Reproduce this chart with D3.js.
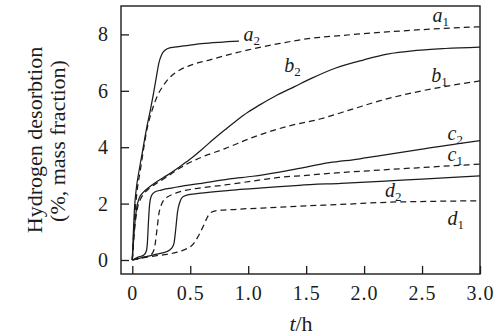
<!DOCTYPE html>
<html><head><meta charset="utf-8">
<script src="https://cdn.jsdelivr.net/npm/d3@7"></script>
<style>
html,body{margin:0;padding:0;background:#fff;}
</style></head>
<body>
<svg id="chart" width="501" height="336"></svg>
<script>
// ---- data (t in h, hydrogen desorption in % mass fraction) ----
const xTicks = [0, 0.5, 1.0, 1.5, 2.0, 2.5, 3.0];
const xTickLabels = ["0", "0.5", "1.0", "1.5", "2.0", "2.5", "3.0"];
const yTicks = [0, 2, 4, 6, 8];
const yTickLabels = ["0", "2", "4", "6", "8"];

const a2 = [[0,0],[0.02,1.9],[0.035,2.55],[0.06,3.2],[0.09,3.9],[0.12,4.6],[0.155,5.3],[0.185,5.95],[0.21,6.55],[0.23,7.0],[0.255,7.3],[0.285,7.45],[0.33,7.53],[0.4,7.57],[0.5,7.62],[0.6,7.67],[0.75,7.72],[0.92,7.76]];
const a1 = [[0,0],[0.02,1.5],[0.04,2.4],[0.07,3.2],[0.1,4.0],[0.13,4.7],[0.17,5.3],[0.22,5.85],[0.27,6.2],[0.33,6.5],[0.41,6.74],[0.5,6.9],[0.67,7.1],[0.85,7.3],[1.0,7.45],[1.25,7.66],[1.5,7.84],[1.8,7.96],[2.14,8.07],[2.5,8.17],[3.0,8.27]];
const b2 = [[0,0],[0.02,1.2],[0.04,1.9],[0.06,2.2],[0.09,2.38],[0.15,2.6],[0.22,2.8],[0.3,3.0],[0.4,3.28],[0.5,3.58],[0.6,3.92],[0.7,4.28],[0.8,4.62],[0.9,4.95],[1.0,5.25],[1.1,5.5],[1.25,5.85],[1.4,6.15],[1.55,6.45],[1.75,6.8],[2.0,7.1],[2.2,7.3],[2.45,7.43],[2.7,7.5],[3.0,7.55]];
const b1 = [[0,0],[0.02,1.1],[0.045,1.85],[0.07,2.15],[0.1,2.35],[0.15,2.55],[0.22,2.75],[0.3,2.95],[0.34,3.07],[0.47,3.4],[0.6,3.65],[0.8,3.95],[1.04,4.35],[1.33,4.73],[1.62,5.0],[1.9,5.35],[2.14,5.65],[2.5,6.0],[3.0,6.35]];
const c2 = [[0,0],[0.05,0.1],[0.1,0.18],[0.12,0.3],[0.13,0.6],[0.14,1.4],[0.15,2.0],[0.165,2.28],[0.19,2.4],[0.25,2.48],[0.35,2.56],[0.47,2.65],[0.6,2.72],[0.84,2.88],[1.04,2.97],[1.27,3.12],[1.44,3.25],[1.7,3.45],[1.95,3.58],[2.14,3.7],[2.5,3.93],[2.8,4.12],[3.0,4.23]];
const c1 = [[0,0],[0.08,0.08],[0.16,0.18],[0.19,0.4],[0.2,0.65],[0.215,1.15],[0.23,1.65],[0.25,1.95],[0.27,2.12],[0.31,2.25],[0.38,2.38],[0.47,2.48],[0.6,2.56],[0.8,2.66],[1.04,2.8],[1.27,2.93],[1.5,3.0],[1.7,3.07],[2.14,3.19],[2.5,3.28],[3.0,3.4]];
const d2 = [[0,0],[0.1,0.1],[0.2,0.2],[0.3,0.3],[0.34,0.42],[0.36,0.6],[0.375,1.1],[0.39,1.7],[0.41,2.05],[0.43,2.22],[0.47,2.3],[0.57,2.36],[0.84,2.47],[1.04,2.53],[1.27,2.6],[1.44,2.65],[1.8,2.72],[2.14,2.79],[2.5,2.87],[3.0,2.98]];
const d1 = [[0,0],[0.1,0.08],[0.2,0.15],[0.3,0.2],[0.38,0.27],[0.44,0.35],[0.53,0.59],[0.57,0.85],[0.61,1.18],[0.64,1.45],[0.67,1.66],[0.73,1.75],[0.9,1.8],[1.27,1.87],[1.45,1.91],[1.8,1.97],[2.22,2.05],[2.6,2.08],[3.0,2.1]];

const seriesNames = ["a2","a1","b2","b1","c2","c1","d2","d1"];
const seriesData  = [a2, a1, b2, b1, c2, c1, d2, d1];
const seriesDashed = [false, true, false, true, false, true, false, true];
// label: letter, subscript, anchor t, anchor value
const labelLetter = ["a","a","b","b","c","c","d","d"];
const labelSub    = ["2","1","2","1","2","1","2","1"];
const labelT      = [0.96, 2.59, 1.31, 2.58, 2.72, 2.72, 2.18, 2.72];
const labelV      = [7.75, 8.45, 6.65, 6.3, 4.25, 3.5, 2.25, 1.23];

// ---- layout ----
const svg = d3.select("#chart");
const frame = {left:121, right:480, top:6, bottom:274};
const x = d3.scaleLinear().domain([0,3]).range([132.3, 480]);
const y = d3.scaleLinear().domain([0,8]).range([260, 34.4]);
const ink = "#1c1c1c";
const serif = "Liberation Serif";

// frame
svg.append("rect")
  .attr("x", frame.left).attr("y", frame.top)
  .attr("width", frame.right-frame.left).attr("height", frame.bottom-frame.top)
  .attr("fill","none").attr("stroke", ink).attr("stroke-width", 1.4);

// axes
const xAxis = d3.axisBottom(x).tickValues(xTicks)
  .tickFormat((d,i)=>xTickLabels[i]).tickSizeInner(-8).tickSizeOuter(0).tickPadding(12);
const gx = svg.append("g").attr("transform",`translate(0,${frame.bottom})`).call(xAxis);
const yAxis = d3.axisLeft(y).tickValues(yTicks)
  .tickFormat((d,i)=>yTickLabels[i]).tickSizeInner(-8).tickSizeOuter(0).tickPadding(13);
const gy = svg.append("g").attr("transform",`translate(${frame.left},0)`).call(yAxis);
[gx, gy].forEach(g=>{
  g.attr("font-family", serif).attr("font-size", 20);
  g.select(".domain").remove();
  g.selectAll(".tick line").attr("stroke", ink).attr("stroke-width", 1.3);
  g.selectAll(".tick text").attr("fill", ink).attr("font-family", serif);
});
gx.selectAll(".tick text").attr("letter-spacing", 1);

// curves
const line = d3.line().x(d=>x(d[0])).y(d=>y(d[1])).curve(d3.curveMonotoneX);
const plot = svg.append("g");
seriesData.forEach((data,i)=>{
  plot.append("path").datum(data)
    .attr("d", line)
    .attr("fill","none")
    .attr("stroke", ink)
    .attr("stroke-width", 1.25)
    .attr("stroke-dasharray", seriesDashed[i] ? "6,4" : null);
});

// curve labels
seriesNames.forEach((n,i)=>{
  const t = svg.append("text")
    .attr("x", x(labelT[i])).attr("y", y(labelV[i]))
    .attr("font-family", serif)
    .attr("fill", ink).attr("font-size", 20);
  t.append("tspan").attr("font-style","italic").text(labelLetter[i]);
  t.append("tspan").attr("dy", 4).attr("font-size", 13).text(labelSub[i]);
});

// axis titles
svg.append("text")
  .attr("transform","translate(42,140) rotate(-90)")
  .attr("text-anchor","middle").attr("fill", ink).attr("font-size", 22).attr("font-family", serif)
  .text("Hydrogen desorbtion");
svg.append("text")
  .attr("transform","translate(65,141) rotate(-90)")
  .attr("text-anchor","middle").attr("fill", ink).attr("font-size", 22).attr("font-family", serif)
  .text("(%, mass fraction)");
const xt = svg.append("text")
  .attr("x", 301).attr("y", 331)
  .attr("text-anchor","middle").attr("fill", ink).attr("font-size", 22).attr("font-family", serif);
xt.append("tspan").attr("font-style","italic").text("t");
xt.append("tspan").text("/h");
</script>
</body></html>
